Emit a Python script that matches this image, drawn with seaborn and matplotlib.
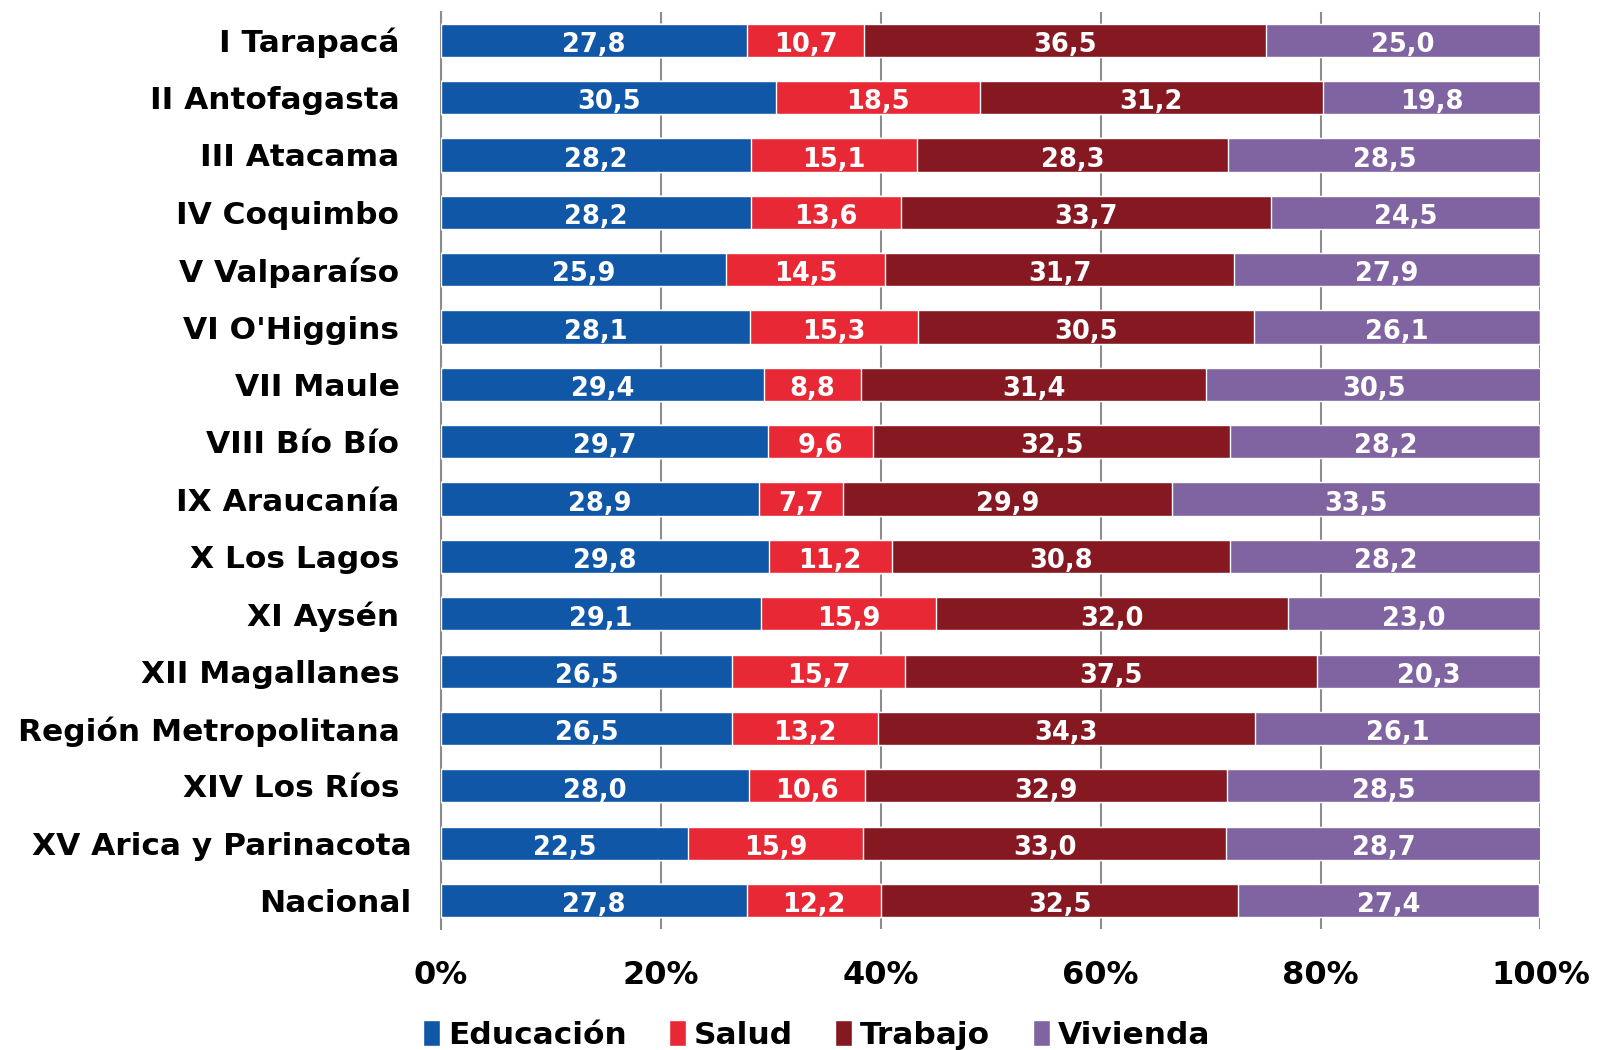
import matplotlib
matplotlib.use("Agg")
import matplotlib.pyplot as plt
import matplotlib.transforms as mtransforms
import numpy as np
import pandas as pd
import seaborn as sns

# data (percent of each region)
regiones = ["I Tarapacá", "II Antofagasta", "III Atacama", "IV Coquimbo",
            "V Valparaíso", "VI O'Higgins", "VII Maule", "VIII Bío Bío",
            "IX Araucanía", "X Los Lagos", "XI Aysén", "XII Magallanes",
            "Región Metropolitana", "XIV Los Ríos", "XV Arica y Parinacota",
            "Nacional"]
educacion = [27.8, 30.5, 28.2, 28.2, 25.9, 28.1, 29.4, 29.7, 28.9, 29.8, 29.1, 26.5, 26.5, 28.0, 22.5, 27.8]
salud = [10.7, 18.5, 15.1, 13.6, 14.5, 15.3, 8.8, 9.6, 7.7, 11.2, 15.9, 15.7, 13.2, 10.6, 15.9, 12.2]
trabajo = [36.5, 31.2, 28.3, 33.7, 31.7, 30.5, 31.4, 32.5, 29.9, 30.8, 32.0, 37.5, 34.3, 32.9, 33.0, 32.5]
vivienda = [25.0, 19.8, 28.5, 24.5, 27.9, 26.1, 30.5, 28.2, 33.5, 28.2, 23.0, 20.3, 26.1, 28.5, 28.7, 27.4]

series = ["Educación", "Salud", "Trabajo", "Vivienda"]
colores = ["#1157A8", "#E82835", "#861821", "#8064A2"]

df = pd.DataFrame({"region": regiones, "Educación": educacion, "Salud": salud,
                   "Trabajo": trabajo, "Vivienda": vivienda})
cum = df[series].cumsum(axis=1)

sns.set_style("white")
plt.rcParams["font.family"] = ["DejaVu Sans"]
plt.rcParams["text.color"] = "black"
plt.rcParams["xtick.color"] = "black"
plt.rcParams["ytick.color"] = "black"

fig = plt.figure(figsize=(15.98, 10.50), dpi=100)
ax = fig.add_axes([0.276, 0.115, 0.688, 0.874])

# stacked bars: draw cumulative totals from the outside in
for s, c in reversed(list(zip(series, colores))):
    sns.barplot(x=cum[s], y=df["region"], order=regiones, orient="h",
                color=c, width=0.58, edgecolor="white", linewidth=1,
                saturation=1, ax=ax, label=s, zorder=3)

# value labels
for i in range(len(regiones)):
    for s in series:
        v = df.loc[i, s]
        xc = cum.loc[i, s] - v / 2
        ax.text(xc, i + 0.03, f"{v:.1f}".replace(".", ","), ha="center",
                va="center_baseline", color="white", fontsize=18.5,
                fontweight="bold", zorder=5)

ax.set_xlim(0, 100)
ax.set_ylim(15.5, -0.5)
ax.set_xticks(np.arange(0, 101, 20))
ax.set_xticklabels([f"{t}%" for t in range(0, 101, 20)], fontsize=23, fontweight="bold")
ax.tick_params(axis="x", length=0, pad=22)
ax.tick_params(axis="y", length=0, pad=30, labelsize=22.5)
for lab in ax.get_yticklabels():
    lab.set_fontweight("bold")
# the last two labels sit a bit further right in the original
shift = mtransforms.ScaledTranslation(0.12, 0, fig.dpi_scale_trans)
for lab in ax.get_yticklabels()[-2:]:
    lab.set_transform(lab.get_transform() + shift)
ax.set_xlabel("")
ax.set_ylabel("")
ax.grid(axis="x", color="#8c8c8c", linewidth=1.5, zorder=0)
ax.set_axisbelow(True)
for sp in ["top", "right", "bottom"]:
    ax.spines[sp].set_visible(False)
ax.spines["left"].set_color("#8c8c8c")
ax.spines["left"].set_linewidth(1.5)

handles, labels = ax.get_legend_handles_labels()
if ax.get_legend() is not None:
    ax.get_legend().remove()
order = [labels.index(s) for s in series]
leg = fig.legend([handles[k] for k in order], series, loc="center",
                 bbox_to_anchor=(0.511, 0.014), ncol=4, frameon=False,
                 prop={"size": 22.5, "weight": "bold"}, handlelength=0.55,
                 handleheight=0.9, handletextpad=0.25, columnspacing=1.35)

fig.savefig("out.png", dpi=100)
